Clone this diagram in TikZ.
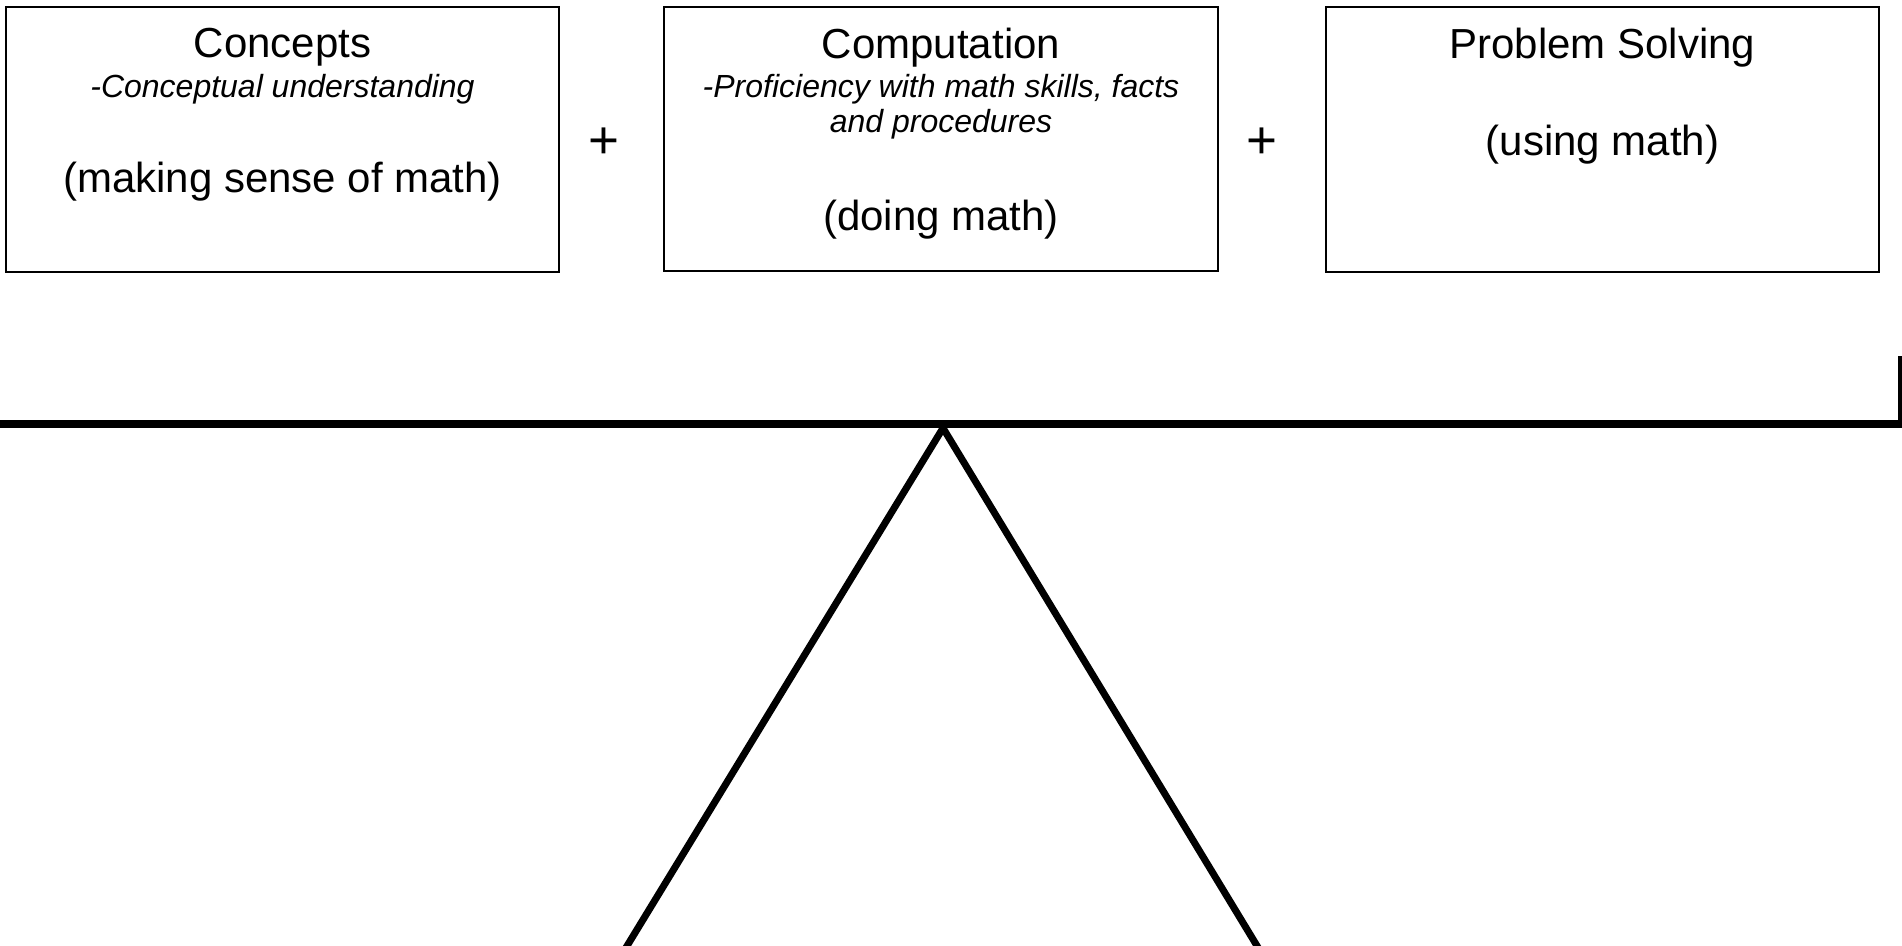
\documentclass[tikz,border=0pt]{standalone}
\usepackage{fontspec}
\setmainfont{Liberation Sans}
\begin{document}
\begin{tikzpicture}[x=1pt,y=-1pt,
  box/.style={draw,line width=1.3pt,rectangle,inner sep=0pt},
  title/.style={anchor=base,inner sep=0pt,font=\fontsize{42}{48}\selectfont},
  sub/.style={anchor=base,inner sep=0pt,font=\itshape\fontsize{32}{36}\selectfont},
  plus/.style={inner sep=0pt,font=\fontsize{53}{60}\selectfont},
  heavy/.style={line width=8pt},
  leg/.style={line width=7pt,miter limit=10}]
\useasboundingbox (0,0) rectangle (1902,945);
\clip (0,0) rectangle (1902,945);
% boxes
\node[box,minimum width=553pt,minimum height=265pt] (b1) at (282.5,139.5) {};
\node[box,minimum width=554pt,minimum height=264pt] (b2) at (941,139) {};
\node[box,minimum width=553pt,minimum height=265pt] (b3) at (1602.5,139.5) {};
% box 1 text
\node[title] (t1) at (282.5,57) {Concepts};
\node[sub] (s1) at (282.5,97) {-Conceptual understanding};
\node[title] (m1) at (282.5,192) {(making sense of math)};
% box 2 text
\node[title] (t2) at (941,58) {Computation};
\node[sub] (s2a) at (941,97) {-Proficiency with math skills, facts};
\node[sub] (s2b) at (941,132) {and procedures};
\node[title] (m2) at (941,230) {(doing math)};
% box 3 text
\node[title] (t3) at (1602.5,58) {Problem Solving};
\node[title] (m3) at (1602.5,155) {(using math)};
% plus signs
\node[plus] (p1) at (604,143) {+};
\node[plus] (p2) at (1261.5,143) {+};
% seesaw
\coordinate (beamL) at (-5,424);
\coordinate (beamR) at (1902,424);
\coordinate (postT) at (1900,356);
\coordinate (postB) at (1900,428);
\coordinate (apex) at (943,428);
\coordinate (footL) at (616,964);
\coordinate (footR) at (1268,964);
\draw[heavy] (beamL) -- (beamR);
\draw[line width=4pt] (postT) -- (postB);
\draw[leg] (footL) -- (apex) -- (footR);
\end{tikzpicture}
\end{document}
